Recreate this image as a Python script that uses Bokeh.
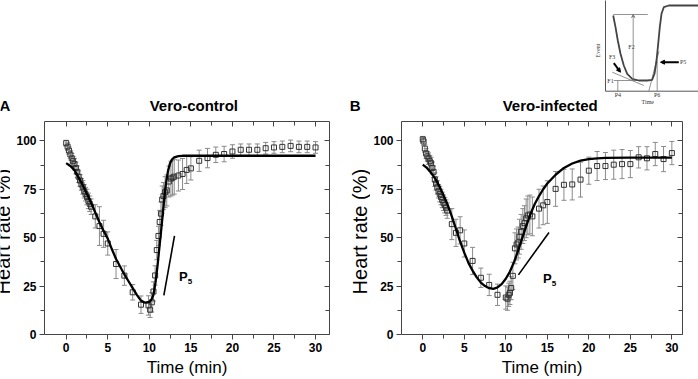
from math import pi
from bokeh.plotting import figure
from bokeh.models import (Range1d, LinearAxis, FixedTicker, ColumnDataSource,
                          Whisker, TeeHead, Arrow, NormalHead, VeeHead)
from bokeh.layouts import column, row
from bokeh.embed import file_html
from bokeh.resources import INLINE
from bokeh.core.properties import value

# ---------------- data: panel A (Vero-control) ----------------
A_time = [0, 0.17, 0.33, 0.5, 0.67, 0.83, 1.0, 1.17, 1.33, 1.5, 1.67, 1.83, 2.0, 2.17,
          2.33, 2.5, 2.67, 2.83, 3.0, 3.5, 4, 4.5, 5, 6, 7, 8, 9,
          9.9, 10.1, 10.3, 10.5, 10.7, 10.9, 11.1, 11.25, 11.4, 11.55, 11.7, 11.9, 12.1,
          12.35, 12.6, 12.8, 13.0, 13.5, 14, 14.5, 15,
          16, 17, 18, 19, 20, 21, 22, 23, 24, 25, 26, 27, 28, 29, 30]
A_rate = [98.8, 97.0, 95.0, 93.0, 91.0, 89.5, 88.0, 86.0, 84.0, 81.5, 79.5, 77.5, 76.0, 74.0,
          72.5, 71.0, 69.0, 67.5, 66.0, 61.0, 56.0, 52.0, 47.0, 36.4, 30.4, 21.8, 15.4,
          15.0, 12.8, 16.6, 22.2, 30.5, 43.6, 50.9, 58.1, 62.4, 69.7, 71.5, 73.5, 74.4,
          79.0, 80.5, 81.0, 81.5, 82.1, 82.9, 85.0, 85.8,
          89.7, 91.1, 92.8, 93.2, 94.5, 95.4, 95.4, 95.4, 96.2, 96.6, 96.9, 97.4, 96.9, 96.9, 96.6]
A_err = [1.5, 2, 2, 2, 2.5, 2.5, 3, 3, 3, 3, 3, 3, 3.5, 3.5,
         3.5, 4, 4, 4, 4, 6, 10, 7, 6, 7.5, 5, 4, 4.5,
         5, 4, 5, 5, 5, 5, 5, 6, 6, 7, 7, 8, 8,
         8, 9, 9, 9, 8, 8, 7, 6,
         5.5, 5, 4, 4, 3.5, 3, 3, 3, 3, 3, 3, 3, 3, 3, 3]
A_fit_time = [0, 0.5, 1, 1.5, 2, 2.5, 3, 3.5, 4, 4.5, 5, 5.5, 6, 6.5, 7, 7.5, 8, 8.5, 9, 9.5,
              10, 10.25, 10.5, 10.75, 11, 11.25, 11.5, 11.75, 12, 12.25, 12.5, 12.75, 13,
              13.5, 14, 15, 20, 25, 30]
A_fit_rate = [88.5, 87, 84.8, 81, 77, 72.5, 68, 63, 58, 53.5, 49.5, 44, 39, 35, 31, 27.5, 24,
              20.5, 17.5, 16.4, 16.8, 18, 20.5, 27, 36, 46.5, 57, 68, 78, 84.5, 88.5, 90.5,
              91.5, 92.1, 92.3, 92.3, 92.3, 92.3, 92.3]
A_p5_time = [11.75, 13.03]
A_p5_rate = [20.2, 50.9]

# ---------------- data: panel B (Vero-infected) ----------------
B_time = [0, 0.1, 0.25, 0.4, 0.55, 0.7, 0.85, 1.0, 1.15, 1.3, 1.45, 1.6, 1.75, 1.9, 2.05,
          2.2, 2.35, 2.5, 2.65, 2.8, 2.95, 3.5, 4, 4.5, 5, 6, 7, 8, 9, 10,
          10.2, 10.35, 10.5, 10.65, 10.85, 11.1, 11.3, 11.5, 11.65, 11.85, 12.05, 12.25,
          12.45, 12.65, 12.9, 13.2, 14, 14.5, 15,
          16, 17, 18, 19, 20, 21, 22, 23, 24, 25, 26, 27, 28, 29, 30]
B_rate = [100.8, 99.7, 96.0, 93.5, 92.0, 90.8, 89.5, 88.5, 86.0, 84.0, 80.0, 78.0, 76.0, 74.0,
          72.5, 71.0, 69.5, 68.0, 66.8, 65.5, 64.0, 57.0, 52.5, 53.8, 47.0, 38.0, 29.3, 25.6,
          20.5, 19.1,
          18.5, 20.5, 21.5, 24.0, 30.3, 44.5, 46.5, 47.5, 50.5, 53.0, 56.0, 57.5,
          60.0, 61.5, 62.0, 61.0, 65.0, 66.7, 68.4,
          75.2, 77.3, 77.5, 80.0, 84.6, 87.0, 87.0, 87.7, 88.0, 88.0, 91.5, 91.0, 93.2, 90.6, 93.7]
B_err = [1.5, 2, 2, 2.5, 2.5, 3, 3, 3, 3, 3, 3.5, 3.5, 3.5, 3.5, 4, 4, 4, 4, 4, 4, 4,
         8, 7, 7, 7, 7, 5, 5.5, 5.5, 6,
         6, 6, 6, 6, 7, 8, 8, 8, 9, 9, 9, 9, 10, 10, 10, 10,
         10, 10, 11,
         9, 8, 8, 9, 7, 7.5, 7, 7.5, 7.5, 7, 5.5, 6, 6, 6.5, 6]
B_fit_time = [0, 0.5, 1, 1.5, 2, 2.5, 3, 3.5, 4, 4.5, 5, 5.5, 6, 6.5, 7, 7.5, 8, 8.5, 9, 9.5,
              10, 10.5, 11, 11.5, 12, 12.5, 13, 13.5, 14, 14.5, 15, 16, 17, 18, 19, 20, 21,
              22, 25, 30]
B_fit_rate = [87.7, 86, 83.5, 80.5, 76.5, 72, 67, 61, 54.5, 48, 42.3, 37, 33, 29.5, 26.8, 25,
              23.9, 23.6, 24.3, 26, 28.8, 32.5, 37.5, 43.5, 50, 56.5, 62.5, 67.5, 71.5, 75,
              78, 82.5, 86, 88.3, 89.8, 90.6, 91, 91.2, 91.3, 91.3]
B_p5_time = [11.52, 15.2]
B_p5_rate = [30.8, 52.7]

x_ticks = [0, 5, 10, 15, 20, 25, 30]
x_minor = [2.5, 7.5, 12.5, 17.5, 22.5, 27.5]
y_ticks = [0, 25, 50, 75, 100]
y_minor = [12.5, 37.5, 62.5, 87.5]

# ---------------- inset schematic (own units) ----------------
inset_curve_T = [7.7, 10, 12.3, 15, 18.3, 21.7, 26.7, 33.3, 41.7, 46.7, 49, 51, 52.7, 54.3,
                 56, 58.3, 63.3, 93]
inset_curve_E = [75.7, 64, 50.7, 37.4, 25.7, 17.4, 12.4, 10.7, 10.7, 11.4, 17.4, 30.7, 47.4,
                 64, 77.4, 84, 85.7, 85.7]

FONT = "Liberation Sans"
AXC = "#444444"
PH = 263  # height of the panel row


def ylabel_fig(width, cx):
    f = figure(width=width, height=PH, x_range=Range1d(0, width), y_range=Range1d(PH, 0),
               output_backend="svg", toolbar_location=None, x_axis_type=None,
               y_axis_type=None, min_border=0)
    f.grid.visible = False
    f.outline_line_color = None
    f.text(x=[cx], y=[136], text=["Heart rate (%)"], angle=pi / 2,
           text_font=value(FONT), text_font_size="20px", text_align="center",
           text_baseline="middle", text_color="black")
    return f


def panel(t, r, e, ft, fr, p5t, p5r, p_xy, xr, width, bl, br):
    p = figure(width=width, height=PH, x_range=Range1d(*xr), y_range=Range1d(0, 110),
               output_backend="svg", toolbar_location=None,
               min_border_left=bl, min_border_right=br, min_border_top=5,
               min_border_bottom=43)
    p.grid.visible = False
    p.outline_line_color = None

    xt = FixedTicker(ticks=x_ticks, minor_ticks=x_minor)
    yt = FixedTicker(ticks=y_ticks, minor_ticks=y_minor)
    for ax, tk in ((p.xaxis[0], xt), (p.yaxis[0], yt)):
        ax.ticker = tk
        ax.axis_line_color = AXC
        ax.major_tick_line_color = AXC
        ax.minor_tick_line_color = AXC
        ax.major_tick_out = 5
        ax.major_tick_in = 0
        ax.minor_tick_out = 4
        ax.minor_tick_in = 0
        ax.major_label_text_font = FONT
        ax.major_label_text_font_style = "bold"
        ax.major_label_text_font_size = "12px"
        ax.major_label_text_color = "black"
        ax.major_label_standoff = 3
    p.xaxis.axis_label = "Time (min)"
    p.xaxis.axis_label_text_font = FONT
    p.xaxis.axis_label_text_font_style = "normal"
    p.xaxis.axis_label_text_font_size = "17px"
    p.xaxis.axis_label_standoff = 3
    p.xaxis.axis_label_text_color = "black"

    for loc, tk in (("above", xt), ("right", yt)):
        ax = LinearAxis(ticker=tk, major_label_text_font_size="1px",
                        major_label_text_color=None, major_label_standoff=0,
                        axis_line_color=AXC, major_tick_line_color=AXC,
                        minor_tick_line_color=AXC, major_tick_in=5, major_tick_out=0,
                        minor_tick_in=4, minor_tick_out=0)
        p.add_layout(ax, loc)

    lo = [a - b for a, b in zip(r, e)]
    hi = [a + b for a, b in zip(r, e)]
    src = ColumnDataSource(dict(t=t, r=r, lo=lo, hi=hi))
    p.add_layout(Whisker(source=src, base="t", lower="lo", upper="hi",
                         line_color="#8a8a8a", line_width=1,
                         lower_head=TeeHead(size=5, line_color="#8a8a8a", line_width=1),
                         upper_head=TeeHead(size=5, line_color="#8a8a8a", line_width=1)))
    p.scatter("t", "r", source=src, marker="square", size=5, fill_color=None,
              line_color="#333333", line_width=1)
    p.line(ft, fr, line_color="black", line_width=2.3)
    p.line(p5t, p5r, line_color="black", line_width=1.6)
    p.text(x=[p_xy[0]], y=[p_xy[1]], text=["P"], text_font=value(FONT),
           text_font_style="bold", text_font_size="13px", text_align="center",
           text_baseline="middle", text_color="black")
    p.text(x=[p_xy[0] + 0.8], y=[p_xy[1] - 2.6], text=["5"], text_font=value(FONT),
           text_font_style="bold", text_font_size="8px", text_align="center",
           text_baseline="middle", text_color="black")
    return p


labA = ylabel_fig(10, 2.2)
pA = panel(A_time, A_rate, A_err, A_fit_time, A_fit_rate, A_p5_time, A_p5_rate,
           (14.1, 29.9), (-2.61, 31.68), 338, 34, 19)
labB = ylabel_fig(22, 11)
pB = panel(B_time, B_rate, B_err, B_fit_time, B_fit_rate, B_p5_time, B_p5_rate,
           (15.0, 29.1), (-2.56, 31.28), 328, 30, 16)

# ---------------- top strip: panel titles + inset ----------------
top = figure(width=698, height=116, x_range=Range1d(0, 698), y_range=Range1d(116, 0),
             output_backend="svg", toolbar_location=None, x_axis_type=None,
             y_axis_type=None, min_border=0)
top.grid.visible = False
top.outline_line_color = None
head_x = [4.5, 193.3, 354.7, 549.7]
head_y = [105, 105, 105, 105]
head_text = ["A", "Vero-control", "B", "Vero-infected"]
top.text(x=head_x, y=head_y, text=head_text, text_font=value(FONT), text_font_style="bold",
         text_font_size="15px", text_align="center", text_baseline="middle",
         text_color="black")

top.extra_x_ranges = {"ix": Range1d(-605, 93)}
top.extra_y_ranges = {"iy": Range1d(-25.3, 90.7)}
kw = dict(x_range_name="ix", y_range_name="iy")
GR = "#777777"
top.line([0, 0, 93], [95, 0, 0], line_color="#555555", line_width=1, **kw)
top.line([7.7, 42.3], [76.7, 76.7], line_color=GR, line_width=0.8, **kw)
top.line([8.3, 46.7], [10.7, 10.7], line_color=GR, line_width=0.8, **kw)
top.line([6.7, 38.3], [19, 5.7], line_color=GR, line_width=0.8, **kw)
top.line([12.3, 12.3], [10.7, 0], line_color=GR, line_width=0.8, **kw)
top.line([51.7, 51.7], [30.7, 0], line_color=GR, line_width=0.8, **kw)
top.line([43.3, 53.5], [0, 40], line_color=GR, line_width=0.8, **kw)
top.add_layout(Arrow(x_start=27.7, y_start=10.7, x_end=27.7, y_end=76.7,
                     line_color=GR, line_width=0.8,
                     end=VeeHead(size=3, line_color=GR, fill_color=GR), **kw))
top.line(inset_curve_T, inset_curve_E, line_color="#444444", line_width=1.8, **kw)
top.add_layout(Arrow(x_start=8.3, y_start=28, x_end=15, y_end=19, line_color="black",
                     line_width=2, end=NormalHead(size=4, fill_color="black",
                                                  line_color="black"), **kw))
top.add_layout(Arrow(x_start=73.3, y_start=29, x_end=55, y_end=29, line_color="black",
                     line_width=2, end=NormalHead(size=4, fill_color="black",
                                                  line_color="black"), **kw))
ins_x = [5, 26, 6.7, 77.7, 12.3, 51.7, 42.3]
ins_y = [10, 44, 34, 29, -3.6, -3.6, -11]
ins_t = ["F1", "F2", "F3", "P5", "P4", "P6", "Time"]
top.text(x=ins_x, y=ins_y, text=ins_t, text_font=value("Liberation Serif"),
         text_font_size="6px", text_align="center", text_baseline="middle",
         text_color="#333333", **kw)
top.text(x=[-7.3], y=[40.7], text=["Event"], angle=pi / 2,
         text_font=value("Liberation Serif"), text_font_size="6px", text_align="center",
         text_baseline="middle", text_color="#333333", **kw)

layout = column(top, row(labA, pA, labB, pB))
open("out.html", "w").write(file_html(layout, INLINE))
